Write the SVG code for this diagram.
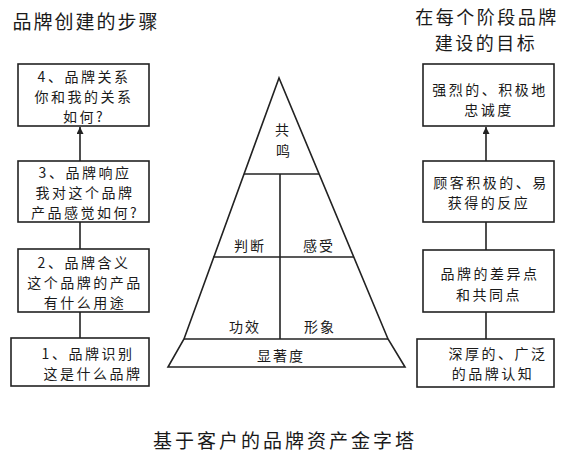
<svg xmlns="http://www.w3.org/2000/svg" width="561" height="455" viewBox="0 0 561 455">
<style>
text{font-family:"Noto Sans CJK SC","Noto Sans",sans-serif;fill:#1a1a1a;dominant-baseline:central;text-anchor:middle}
.t{font-size:19px;letter-spacing:2px}
.r{font-size:18px;letter-spacing:2.5px}
.c{font-size:19px;letter-spacing:3px}
.b{font-size:14px;letter-spacing:2.5px}
.p{font-size:14px;letter-spacing:2px}
.box{fill:#fff;stroke:#222;stroke-width:1.6}
.ln{stroke:#222;stroke-width:1.6;fill:none}
</style>
<defs>
<marker id="ah" viewBox="0 0 10 10" refX="10" refY="5" markerWidth="7" markerHeight="7" orient="auto" markerUnits="userSpaceOnUse">
<path d="M0,0 L10,5 L0,10 z" fill="#222"/>
</marker>
</defs>
<rect width="561" height="455" fill="#fff"/>
<text class="t" x="86" y="20">品牌创建的步骤</text>
<text class="r" x="487" y="16">在每个阶段品牌</text>
<text class="r" x="486" y="42">建设的目标</text>
<g id="connectors">
<line class="ln" x1="80" y1="161" x2="80" y2="127" marker-end="url(#ah)"/>
<line class="ln" x1="80" y1="222" x2="80" y2="249"/>
<line class="ln" x1="80" y1="312" x2="80" y2="338"/>
<line class="ln" x1="486" y1="161" x2="486" y2="127" marker-end="url(#ah)"/>
<line class="ln" x1="486" y1="222" x2="486" y2="250"/>
<line class="ln" x1="486" y1="312" x2="486" y2="339"/>
</g>
<g id="left4"><rect class="box" x="18" y="64" width="131" height="62"/>
<text class="b" x="84" y="76">4、品牌关系</text><text class="b" x="84" y="96">你和我的关系</text><text class="b" x="84" y="116">如何?</text></g>
<g id="left3"><rect class="box" x="18" y="161" width="131" height="61"/>
<text class="b" x="85" y="172">3、品牌响应</text><text class="b" x="85" y="192">我对这个品牌</text><text class="b" x="85" y="212">产品感觉如何?</text></g>
<g id="left2"><rect class="box" x="18" y="249" width="131" height="63"/>
<text class="b" x="84" y="262">2、品牌含义</text><text class="b" x="85" y="282">这个品牌的产品</text><text class="b" x="85" y="302">有什么用途</text></g>
<g id="left1"><rect class="box" x="11" y="338" width="138" height="48"/>
<text class="b" x="88" y="353">1、品牌识别</text><text class="b" x="93" y="373">这是什么品牌</text></g>
<g id="right1"><rect class="box" x="423" y="64" width="131" height="62"/>
<text class="b" x="490" y="89">强烈的、积极地</text><text class="b" x="489" y="109">忠诚度</text></g>
<g id="right2"><rect class="box" x="423" y="161" width="131" height="61"/>
<text class="b" x="491" y="182">顾客积极的、易</text><text class="b" x="489" y="202">获得的反应</text></g>
<g id="right3"><rect class="box" x="423" y="250" width="131" height="62"/>
<text class="b" x="490" y="273">品牌的差异点</text><text class="b" x="489" y="294">和共同点</text></g>
<g id="right4"><rect class="box" x="417" y="339" width="137" height="48"/>
<text class="b" x="498" y="353">深厚的、广泛</text><text class="b" x="493" y="373">的品牌认知</text></g>
<g id="pyramid">
<path class="ln" d="M279,78 L184,339 L168,367 L405,367 L388,339 Z"/>
<line class="ln" x1="184" y1="339" x2="388" y2="339"/>
<line class="ln" x1="244" y1="174" x2="319" y2="174"/>
<line class="ln" x1="213" y1="257" x2="354" y2="257"/>
<line class="ln" x1="280" y1="174" x2="280" y2="339"/>
<text class="p" x="283" y="129">共</text><text class="p" x="284" y="150">鸣</text>
<text class="p" x="250" y="245">判断</text><text class="p" x="319" y="245">感受</text>
<text class="p" x="245" y="326">功效</text><text class="p" x="320" y="326">形象</text>
<text class="p" x="281" y="355">显著度</text>
</g>
<text class="c" x="285" y="439">基于客户的品牌资产金字塔</text>
</svg>
